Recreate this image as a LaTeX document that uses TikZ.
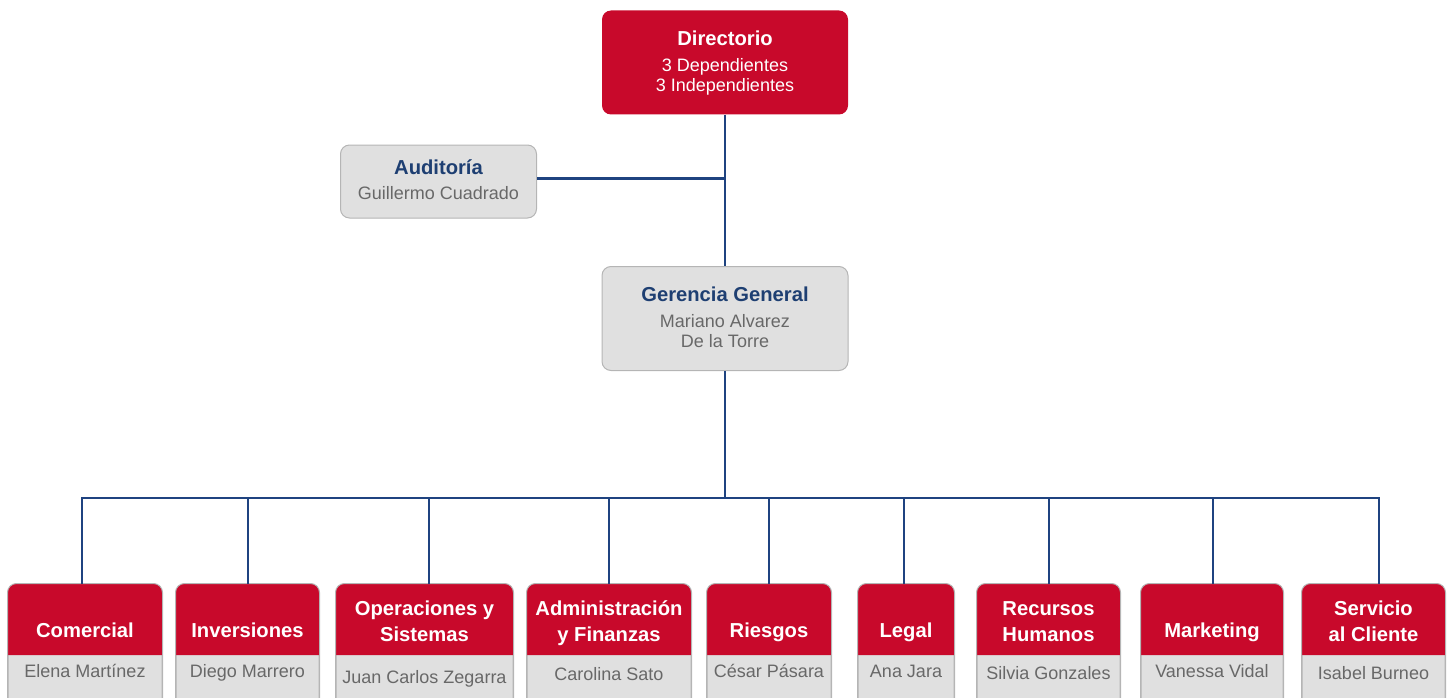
\documentclass[tikz,border=0pt]{standalone}
\usepackage{fontspec}
\setmainfont{Liberation Sans}
\definecolor{hdred}{HTML}{C8092B}
\definecolor{navy}{HTML}{1F4380}
\definecolor{titlenavy}{HTML}{1E3F72}
\definecolor{boxgray}{HTML}{E0E0E0}
\definecolor{edgegray}{HTML}{B5B5B5}
\definecolor{txtgray}{HTML}{686868}
\tikzset{
  redbox/.style={rectangle, rounded corners=9pt, fill=hdred, draw=none, inner sep=0pt},
  graybox/.style={rectangle, rounded corners=9pt, fill=boxgray, draw=edgegray, line width=1pt, inner sep=0pt},
  conn/.style={draw=navy, line width=2.8pt},
  ttlw/.style={anchor=base, text=white, font=\fontsize{20.2}{22}\selectfont\bfseries, inner sep=0pt},
  ttlb/.style={anchor=base, text=titlenavy, font=\fontsize{20.2}{22}\selectfont\bfseries, inner sep=0pt},
  subw/.style={anchor=base, text=white, font=\fontsize{18}{20}\selectfont, inner sep=0pt},
  subg/.style={anchor=base, text=txtgray, font=\fontsize{18}{20}\selectfont, inner sep=0pt},
}
\begin{document}
\begin{tikzpicture}[x=1pt,y=-1pt]
\useasboundingbox (0,0) rectangle (1453,698);
\clip (0,0) rectangle (1453,698);
% top boxes
\node[redbox, minimum width=246pt, minimum height=104pt] (dir) at (725,62.5) {};
\node[ttlw] (dirT) at (725,46) {Directorio};
\node[subw] (dirA) at (725,72) {3 Dependientes};
\node[subw] (dirB) at (725,92) {3 Independientes};

\node[graybox, minimum width=196pt, minimum height=73pt] (aud) at (438.5,181.5) {};
\node[ttlb] (audT) at (438.5,174) {Auditoría};
\node[subg] (audA) at (438.5,199) {Guillermo Cuadrado};

\node[graybox, minimum width=246pt, minimum height=104pt] (ger) at (725,318.5) {};
\node[ttlb] (gerT) at (725,301) {Gerencia General};
\node[subg] (gerA) at (725,327) {Mariano Alvarez};
\node[subg] (gerB) at (725,347) {De la Torre};

% connectors top
\draw[conn] (dir.south) -- (ger.north);
\draw[conn] ([yshift=3pt]aud.east) -- ([yshift=3pt]aud.east -| dir.south);

% bottom boxes: name / left / right / drop-offset
\foreach \nm/\xa/\xb/\dx in {b1/8/162/-3, b2/176/319/0.5, b3/336/513/4.5, b4/527/691/0, b5/707/831/0, b6/858/954/-2, b7/977/1120/0.5, b8/1141/1283/1, b9/1302/1445/5.5}{
  \node[graybox, minimum width={\xb-\xa}, minimum height=130pt] (\nm) at ({(\xa+\xb)/2},649) {};
  \fill[hdred] (\xa,655) [rounded corners=9pt] -- (\nm.north west) -- (\nm.north east) [sharp corners] -- (\xb,655) -- cycle;
  \draw[edgegray, line width=1pt, rounded corners=9pt] (\nm.south west) rectangle (\nm.north east);
  \draw[conn] (ger.south) -- ++(0,127) -| ([xshift=\dx pt]\nm.north);
}

\node[ttlw] (b1T) at (b1 |- 0,637) {Comercial};
\node[subg] (b1A) at (b1 |- 0,677) {Elena Martínez};
\node[ttlw] (b2T) at (b2 |- 0,637) {Inversiones};
\node[subg] (b2A) at (b2 |- 0,677) {Diego Marrero};
\node[ttlw] (b3T) at (b3 |- 0,615) {Operaciones y};
\node[ttlw] (b3U) at (b3 |- 0,641) {Sistemas};
\node[subg] (b3A) at (b3 |- 0,683) {Juan Carlos Zegarra};
\node[ttlw] (b4T) at (b4 |- 0,615) {Administración};
\node[ttlw] (b4U) at (b4 |- 0,641) {y Finanzas};
\node[subg] (b4A) at (b4 |- 0,680) {Carolina Sato};
\node[ttlw] (b5T) at (b5 |- 0,637) {Riesgos};
\node[subg] (b5A) at (b5 |- 0,677) {César Pásara};
\node[ttlw] (b6T) at (b6 |- 0,637) {Legal};
\node[subg] (b6A) at (b6 |- 0,677) {Ana Jara};
\node[ttlw] (b7T) at (b7 |- 0,615) {Recursos};
\node[ttlw] (b7U) at (b7 |- 0,641) {Humanos};
\node[subg] (b7A) at (b7 |- 0,679) {Silvia Gonzales};
\node[ttlw] (b8T) at (b8 |- 0,637) {Marketing};
\node[subg] (b8A) at (b8 |- 0,677) {Vanessa Vidal};
\node[ttlw] (b9T) at (b9 |- 0,615) {Servicio};
\node[ttlw] (b9U) at (b9 |- 0,641) {al Cliente};
\node[subg] (b9A) at (b9 |- 0,679) {Isabel Burneo};
\end{tikzpicture}
\end{document}
